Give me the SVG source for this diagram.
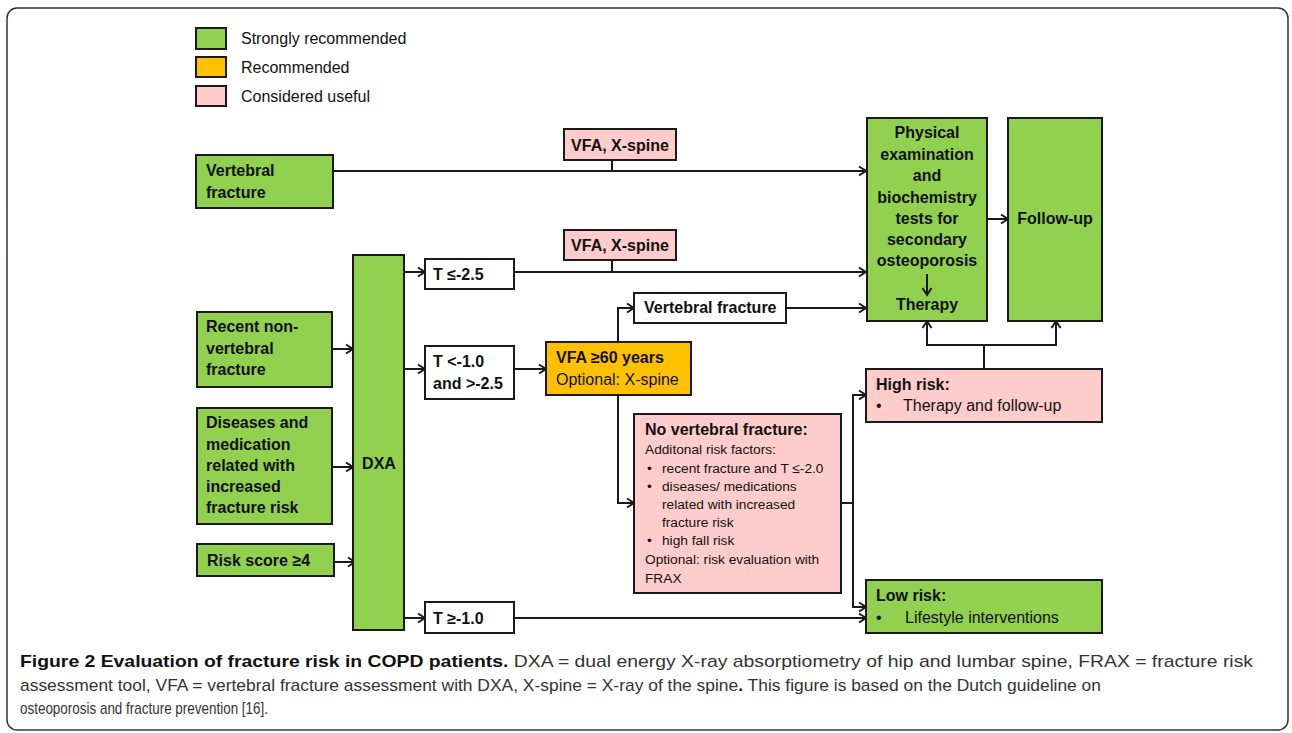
<svg xmlns="http://www.w3.org/2000/svg" width="1292" height="733" viewBox="0 0 1292 733">
<style>
.g{fill:#92d050;stroke:#1a1a1a;stroke-width:2}
.o{fill:#ffc000;stroke:#1a1a1a;stroke-width:2}
.p{fill:#ffcccc;stroke:#1a1a1a;stroke-width:2}
.w{fill:#ffffff;stroke:#1a1a1a;stroke-width:2}
.b{font-family:"Liberation Sans",Arial,sans-serif;font-weight:bold;font-size:16px;fill:#111}
.r{font-family:"Liberation Sans",Arial,sans-serif;font-size:16px;fill:#111}
.s{font-family:"Liberation Sans",Arial,sans-serif;font-size:13.7px;fill:#111}
.c{text-anchor:middle}
.ln{fill:none;stroke:#1a1a1a;stroke-width:2}
.ar{marker-end:url(#ah)}
.cap{font-family:"Liberation Sans",Arial,sans-serif;font-size:17px;fill:#333}
.capb{font-weight:bold;fill:#111}
</style>
<defs>
<marker id="ah" markerUnits="userSpaceOnUse" markerWidth="12" markerHeight="12" refX="10" refY="6" orient="auto">
<path d="M3,1.5 L10,6 L3,10.5" fill="none" stroke="#1a1a1a" stroke-width="2"/>
</marker>
</defs>
<rect x="7" y="8" width="1281" height="722" rx="10" fill="#fff" stroke="#333" stroke-width="1.5"/>

<g id="legend">
<rect class="g" x="196" y="28" width="30" height="21"/>
<text class="r" x="241" y="44">Strongly recommended</text>
<rect class="o" x="196" y="57" width="30" height="20"/>
<text class="r" x="241" y="73">Recommended</text>
<rect class="p" x="196" y="86" width="30" height="20"/>
<text class="r" x="241" y="102">Considered useful</text>
</g>

<g id="connectors">
<path class="ln ar" d="M333,171 H866"/>
<path class="ln" d="M612,160 V171"/>
<path class="ln ar" d="M404,272 H425"/>
<path class="ln ar" d="M514,272 H866"/>
<path class="ln" d="M612,260 V272"/>
<path class="ln ar" d="M404,369 H425"/>
<path class="ln ar" d="M514,369 H546"/>
<path class="ln ar" d="M618,342 V308 H634"/>
<path class="ln ar" d="M786,308 H866"/>
<path class="ln ar" d="M618,395 V503 H634"/>
<path class="ln" d="M841,503 H853"/>
<path class="ln ar" d="M853,503 V395 H866"/>
<path class="ln ar" d="M853,503 V607 H866"/>
<path class="ln ar" d="M404,618 H425"/>
<path class="ln ar" d="M514,618 H866"/>
<path class="ln ar" d="M332,349 H353"/>
<path class="ln ar" d="M332,467 H353"/>
<path class="ln ar" d="M334,562 H355"/>
<path class="ln ar" d="M987,219 H1008"/>
<path class="ln" d="M984,369 V345"/>
<path class="ln ar" d="M984,345 H927 V321"/>
<path class="ln ar" d="M984,345 H1056 V321"/>
</g>

<g id="vertebral-fracture">
<rect class="g" x="196" y="155" width="137" height="53"/>
<text class="b" x="206" y="176">Vertebral</text>
<text class="b" x="206" y="198">fracture</text>
</g>

<g id="vfa-xspine-1">
<rect class="p" x="564" y="129" width="112" height="31"/>
<text class="b c" x="620" y="151">VFA, X-spine</text>
</g>

<g id="vfa-xspine-2">
<rect class="p" x="564" y="230" width="112" height="30"/>
<text class="b c" x="620" y="251">VFA, X-spine</text>
</g>

<g id="recent-nonvertebral">
<rect class="g" x="197" y="312" width="135" height="75"/>
<text class="b" x="206" y="332">Recent non-</text>
<text class="b" x="206" y="354">vertebral</text>
<text class="b" x="206" y="375">fracture</text>
</g>

<g id="diseases">
<rect class="g" x="197" y="408" width="135" height="116"/>
<text class="b" x="206" y="428">Diseases and</text>
<text class="b" x="206" y="450">medication</text>
<text class="b" x="206" y="471">related with</text>
<text class="b" x="206" y="492">increased</text>
<text class="b" x="206" y="513">fracture risk</text>
</g>

<g id="risk-score">
<rect class="g" x="197" y="544" width="137" height="32"/>
<text class="b" x="207" y="566">Risk score ≥4</text>
</g>

<g id="dxa">
<rect class="g" x="353" y="255" width="51" height="375"/>
<text class="b c" x="379" y="469">DXA</text>
</g>

<g id="t-le-25">
<rect class="w" x="425" y="259" width="89" height="30"/>
<text class="b" x="433" y="280">T ≤-2.5</text>
</g>

<g id="t-between">
<rect class="w" x="425" y="346" width="89" height="53"/>
<text class="b" x="433" y="367">T &lt;-1.0</text>
<text class="b" x="433" y="389">and &gt;-2.5</text>
</g>

<g id="t-ge-10">
<rect class="w" x="425" y="602" width="89" height="31"/>
<text class="b" x="433" y="624">T ≥-1.0</text>
</g>

<g id="vfa-60">
<rect class="o" x="546" y="342" width="145" height="53"/>
<text class="b" x="556" y="363">VFA ≥60 years</text>
<text class="r" x="556" y="385">Optional: X-spine</text>
</g>

<g id="vertebral-fracture-2">
<rect class="w" x="634" y="293" width="152" height="30"/>
<text class="b" x="644" y="313">Vertebral fracture</text>
</g>

<g id="no-vertebral-fracture">
<rect class="p" x="634" y="414" width="207" height="179"/>
<text class="b" x="645" y="435">No vertebral fracture:</text>
<text class="s" x="645" y="454">Additonal risk factors:</text>
<text class="s" x="647" y="473">•</text>
<text class="s" x="662" y="473">recent fracture and T ≤-2.0</text>
<text class="s" x="647" y="491">•</text>
<text class="s" x="662" y="491">diseases/ medications</text>
<text class="s" x="662" y="509">related with increased</text>
<text class="s" x="662" y="527">fracture risk</text>
<text class="s" x="647" y="545">•</text>
<text class="s" x="662" y="545">high fall risk</text>
<text class="s" x="645" y="564">Optional: risk evaluation with</text>
<text class="s" x="645" y="583">FRAX</text>
</g>

<g id="physical-exam">
<rect class="g" x="867" y="118" width="120" height="203"/>
<text class="b c" x="927" y="138">Physical</text>
<text class="b c" x="927" y="160">examination</text>
<text class="b c" x="927" y="181">and</text>
<text class="b c" x="927" y="203">biochemistry</text>
<text class="b c" x="927" y="224">tests for</text>
<text class="b c" x="927" y="245">secondary</text>
<text class="b c" x="927" y="266">osteoporosis</text>
<path class="ln ar" d="M927,274 V295"/>
<text class="b c" x="927" y="310">Therapy</text>
</g>

<g id="follow-up">
<rect class="g" x="1008" y="118" width="94" height="203"/>
<text class="b c" x="1055" y="224">Follow-up</text>
</g>

<g id="high-risk">
<rect class="p" x="866" y="369" width="236" height="53"/>
<text class="b" x="876" y="390">High risk:</text>
<text class="r" x="876" y="411">•</text>
<text class="r" x="903" y="411">Therapy and follow-up</text>
</g>

<g id="low-risk">
<rect class="g" x="866" y="580" width="236" height="53"/>
<text class="b" x="876" y="601">Low risk:</text>
<text class="r" x="876" y="623">•</text>
<text class="r" x="905" y="623">Lifestyle interventions</text>
</g>

<g id="caption">
<text class="cap" x="20" y="667" textLength="1233" lengthAdjust="spacingAndGlyphs"><tspan class="capb">Figure 2 Evaluation of fracture risk in COPD patients.</tspan> DXA = dual energy X-ray absorptiometry of hip and lumbar spine, FRAX = fracture risk</text>
<text class="cap" x="20" y="691" textLength="1081" lengthAdjust="spacingAndGlyphs">assessment tool, VFA = vertebral fracture assessment with DXA, X-spine = X-ray of the spine<tspan class="capb">.</tspan> This figure is based on the Dutch guideline on</text>
<text class="cap" x="20" y="714" textLength="248" lengthAdjust="spacingAndGlyphs">osteoporosis and fracture prevention [16].</text>
</g>
</svg>
